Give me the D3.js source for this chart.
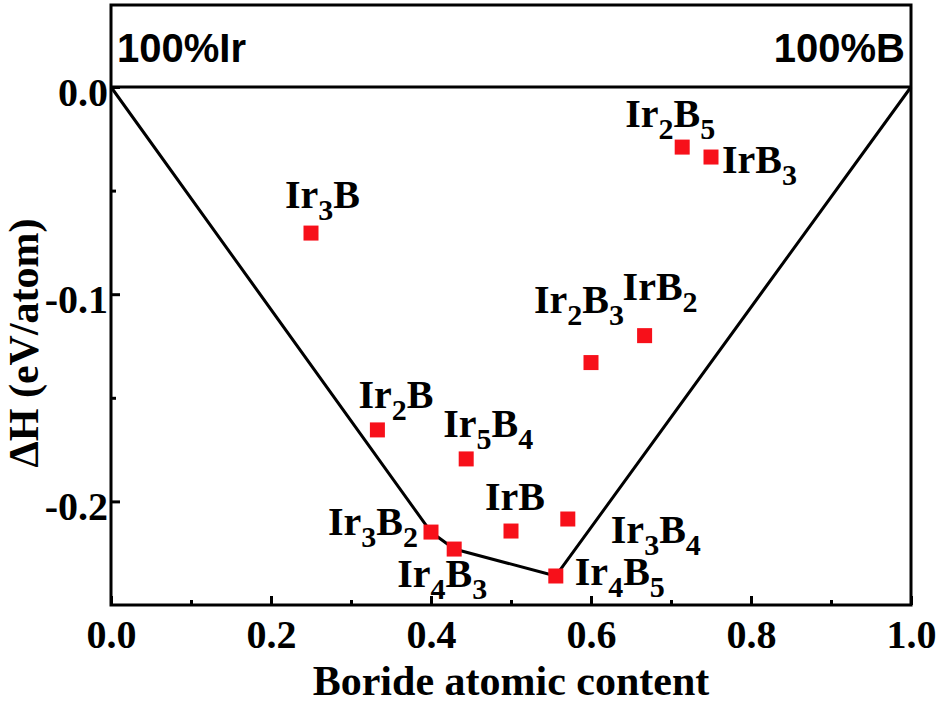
<!DOCTYPE html>
<html>
<head>
<meta charset="utf-8">
<script src="https://cdn.jsdelivr.net/npm/d3@7"></script>
<style>
  body { margin: 0; background: #fff; }
  svg text { font-family: "Liberation Serif", "Times New Roman", serif; font-weight: bold; fill: #000; }
  .hdr { font-family: "Liberation Sans", Arial, sans-serif; font-size: 40px; }
</style>
</head>
<body>
<div id="chart"></div>
<script>
// compounds along the Ir-B line
const compounds = ["Ir3B", "Ir2B", "Ir3B2", "Ir4B3", "Ir5B4", "IrB", "Ir4B5", "Ir3B4", "Ir2B3", "IrB2", "Ir2B5", "IrB3"]
// boron atomic fraction
const boronFrac = [0.25, 0.333, 0.4, 0.429, 0.444, 0.5, 0.556, 0.571, 0.6, 0.667, 0.714, 0.75]
// formation enthalpy (eV/atom)
const deltaH = [-0.0705, -0.1655, -0.2148, -0.223, -0.1795, -0.2143, -0.236, -0.2085, -0.133, -0.120, -0.029, -0.0338]

// convex hull: pure Ir, stable phases, pure B
const hullFrac = [0, 0.4, 0.429, 0.556, 1]
const hullH = [0, -0.2148, -0.223, -0.236, 0]

const xTicks = [0, 0.2, 0.4, 0.6, 0.8, 1.0]
const xMinor = [0.1, 0.3, 0.5, 0.7, 0.9]
const yTicks = [0, -0.1, -0.2]
const yMinor = [-0.05, -0.15]

// label placement relative to each square: [dx, dy, anchor]
const labelPos = [
  [-26, -25, "start"], [-19, -22, "start"], [-13, 3, "end"], [-57, 38, "start"],
  [-23, -22, "start"], [-26, -21, "start"], [19, 9, "start"], [43, 24, "start"],
  [-57, -50, "start"], [-22, -36, "start"], [-57, -20, "start"], [11, 16, "start"]
]

const width = 940, height = 703
const plotL = 111, plotR = 911, plotT = 87, plotB = 605, frameTop = 5

let x = d3.scaleLinear().domain([0, 1]).range([plotL, plotR])
let y = d3.scaleLinear().domain([-0.25, 0]).range([plotB, plotT])

let svg = d3.select("#chart").append("svg")
  .attr("width", width)
  .attr("height", height)

// x axis, ticks pointing inward
let xAxis = svg.append("g")
  .attr("transform", `translate(0,${plotB})`)
  .call(d3.axisBottom(x).tickValues(xTicks).tickSize(-9).tickFormat(d => d.toFixed(1)))
xAxis.select(".domain").remove()
xAxis.selectAll("line").attr("stroke-width", 3)
xAxis.selectAll("text")
  .attr("y", 43).attr("dy", null)
  .style("font-size", "40px")

let xAxisMinor = svg.append("g")
  .attr("transform", `translate(0,${plotB})`)
  .call(d3.axisBottom(x).tickValues(xMinor).tickSize(-5).tickFormat(""))
xAxisMinor.select(".domain").remove()
xAxisMinor.selectAll("line").attr("stroke-width", 3)

// y axis
let yAxis = svg.append("g")
  .attr("transform", `translate(${plotL},0)`)
  .call(d3.axisLeft(y).tickValues(yTicks).tickSize(-9).tickFormat(d => d.toFixed(1)))
yAxis.select(".domain").remove()
yAxis.selectAll("line").attr("stroke-width", 3)
yAxis.selectAll("text")
  .attr("x", -3).attr("dy", 18)
  .style("font-size", "40px")

let yAxisMinor = svg.append("g")
  .attr("transform", `translate(${plotL},0)`)
  .call(d3.axisLeft(y).tickValues(yMinor).tickSize(-5).tickFormat(""))
yAxisMinor.select(".domain").remove()
yAxisMinor.selectAll("line").attr("stroke-width", 3)

// frame + header band
svg.append("rect")
  .attr("x", plotL).attr("y", frameTop)
  .attr("width", plotR - plotL).attr("height", plotB - frameTop)
  .attr("fill", "none").attr("stroke", "#000").attr("stroke-width", 3)
svg.append("line")
  .attr("x1", plotL).attr("x2", plotR)
  .attr("y1", y(0)).attr("y2", y(0))
  .attr("stroke", "#000").attr("stroke-width", 3)

svg.append("text").attr("class", "hdr")
  .attr("x", plotL + 6).attr("y", 62).text("100%Ir")
svg.append("text").attr("class", "hdr")
  .attr("x", plotR - 6).attr("y", 62).attr("text-anchor", "end").text("100%B")

// hull line
svg.append("path")
  .datum(hullFrac.map((f, i) => [f, hullH[i]]))
  .attr("fill", "none")
  .attr("stroke", "#000")
  .attr("stroke-width", 3)
  .attr("stroke-linejoin", "round")
  .attr("d", d3.line().x(d => x(d[0])).y(d => y(d[1])))

// points
const pts = compounds.map((c, i) => ({ name: c, f: boronFrac[i], h: deltaH[i], pos: labelPos[i] }))
const sq = 15

svg.append("g").selectAll("rect")
  .data(pts)
  .enter().append("rect")
  .attr("x", d => x(d.f) - sq / 2)
  .attr("y", d => y(d.h) - sq / 2)
  .attr("width", sq).attr("height", sq)
  .attr("fill", "#f7101a")

// labels with subscripts
let labels = svg.append("g").selectAll("text")
  .data(pts)
  .enter().append("text")
  .attr("x", d => x(d.f) + d.pos[0])
  .attr("y", d => y(d.h) + d.pos[1])
  .attr("text-anchor", d => d.pos[2])
  .style("font-size", "40px")

labels.each(function(d) {
  let t = d3.select(this)
  let parts = d.name.match(/[A-Z][a-z]?|\d+/g)
  let shifted = false
  parts.forEach(p => {
    if (/\d/.test(p)) {
      t.append("tspan").attr("dy", 12).style("font-size", "30px").text(p)
      shifted = true
    } else {
      t.append("tspan").attr("dy", shifted ? -12 : 0).text(p)
      shifted = false
    }
  })
})

// axis titles
svg.append("text")
  .attr("x", (plotL + plotR) / 2).attr("y", 695)
  .attr("text-anchor", "middle")
  .style("font-size", "42px")
  .text("Boride atomic content")

svg.append("text")
  .attr("transform", `translate(38,343) rotate(-90)`)
  .attr("text-anchor", "middle")
  .style("font-size", "42px")
  .text("ΔH (eV/atom)")
</script>
</body>
</html>
